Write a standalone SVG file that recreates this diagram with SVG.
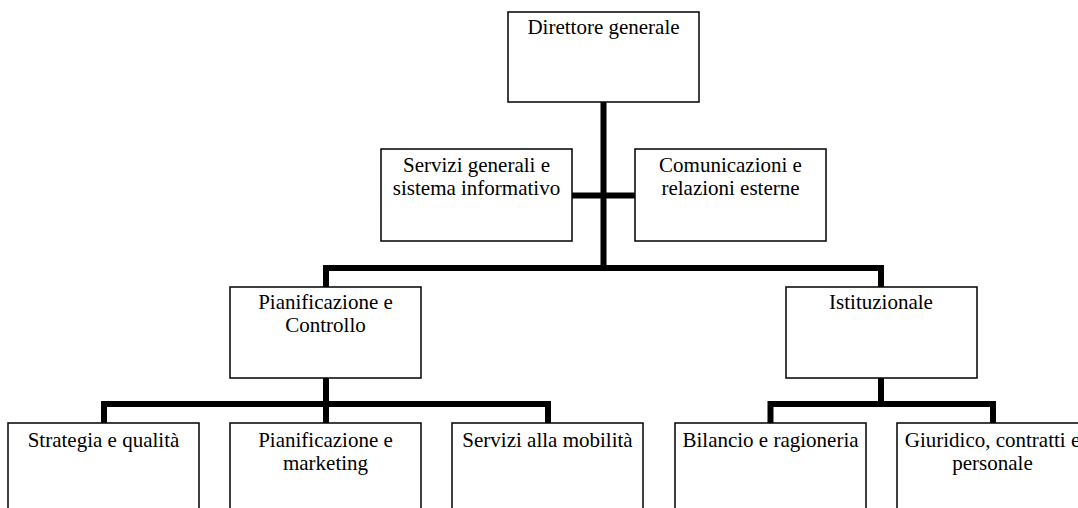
<svg xmlns="http://www.w3.org/2000/svg" width="1078" height="508" viewBox="0 0 1078 508">
<style>
.box{fill:#fff;stroke:#000;stroke-width:1.5}
.lbl{font-family:"Liberation Serif","Times New Roman",serif;font-size:21px;fill:#000;text-anchor:middle}
.con{fill:none;stroke:#000;stroke-width:6;stroke-linecap:butt;stroke-linejoin:miter}
</style>
<rect width="1078" height="508" fill="#fff"/>
<g id="connectors">
<path class="con" d="M603.5 102 V268"/>
<path class="con" d="M569 195.5 H637"/>
<path class="con" d="M326 287 V268 H881 V287"/>
<path class="con" d="M326 378 V404"/>
<path class="con" d="M104 423 V404 H548 V423"/>
<path class="con" d="M326 404 V423"/>
<path class="con" d="M881 378 V404"/>
<path class="con" d="M770.5 423 V404 H993 V423"/>
</g>
<g id="n-direttore">
<rect class="box" x="508" y="12" width="191" height="90"/>
<text class="lbl" x="603.5" y="33.5">Direttore generale</text>
</g>
<g id="n-servizi-generali">
<rect class="box" x="381" y="149" width="191" height="92"/>
<text class="lbl" x="476.5" y="171.5">Servizi generali e</text>
<text class="lbl" x="476.5" y="195">sistema informativo</text>
</g>
<g id="n-comunicazioni">
<rect class="box" x="635" y="149" width="191" height="92"/>
<text class="lbl" x="730.5" y="171.5">Comunicazioni e</text>
<text class="lbl" x="730.5" y="195">relazioni esterne</text>
</g>
<g id="n-pianificazione-controllo">
<rect class="box" x="230" y="287" width="191" height="91"/>
<text class="lbl" x="325.5" y="308.5">Pianificazione e</text>
<text class="lbl" x="325.5" y="332">Controllo</text>
</g>
<g id="n-istituzionale">
<rect class="box" x="786" y="287" width="191" height="91"/>
<text class="lbl" x="881" y="308.5">Istituzionale</text>
</g>
<g id="n-strategia">
<rect class="box" x="8" y="423" width="191" height="91"/>
<text class="lbl" x="103.5" y="446.5">Strategia e qualità</text>
</g>
<g id="n-pianificazione-marketing">
<rect class="box" x="230" y="423" width="191" height="91"/>
<text class="lbl" x="325.5" y="446.5">Pianificazione e</text>
<text class="lbl" x="325.5" y="470">marketing</text>
</g>
<g id="n-servizi-mobilita">
<rect class="box" x="452" y="423" width="191" height="91"/>
<text class="lbl" x="547.5" y="446.5">Servizi alla mobilità</text>
</g>
<g id="n-bilancio">
<rect class="box" x="675" y="423" width="191" height="91"/>
<text class="lbl" x="770.5" y="446.5">Bilancio e ragioneria</text>
</g>
<g id="n-giuridico">
<rect class="box" x="897" y="423" width="191" height="91"/>
<text class="lbl" x="992.5" y="446.5">Giuridico, contratti e</text>
<text class="lbl" x="992.5" y="470">personale</text>
</g>
</svg>
